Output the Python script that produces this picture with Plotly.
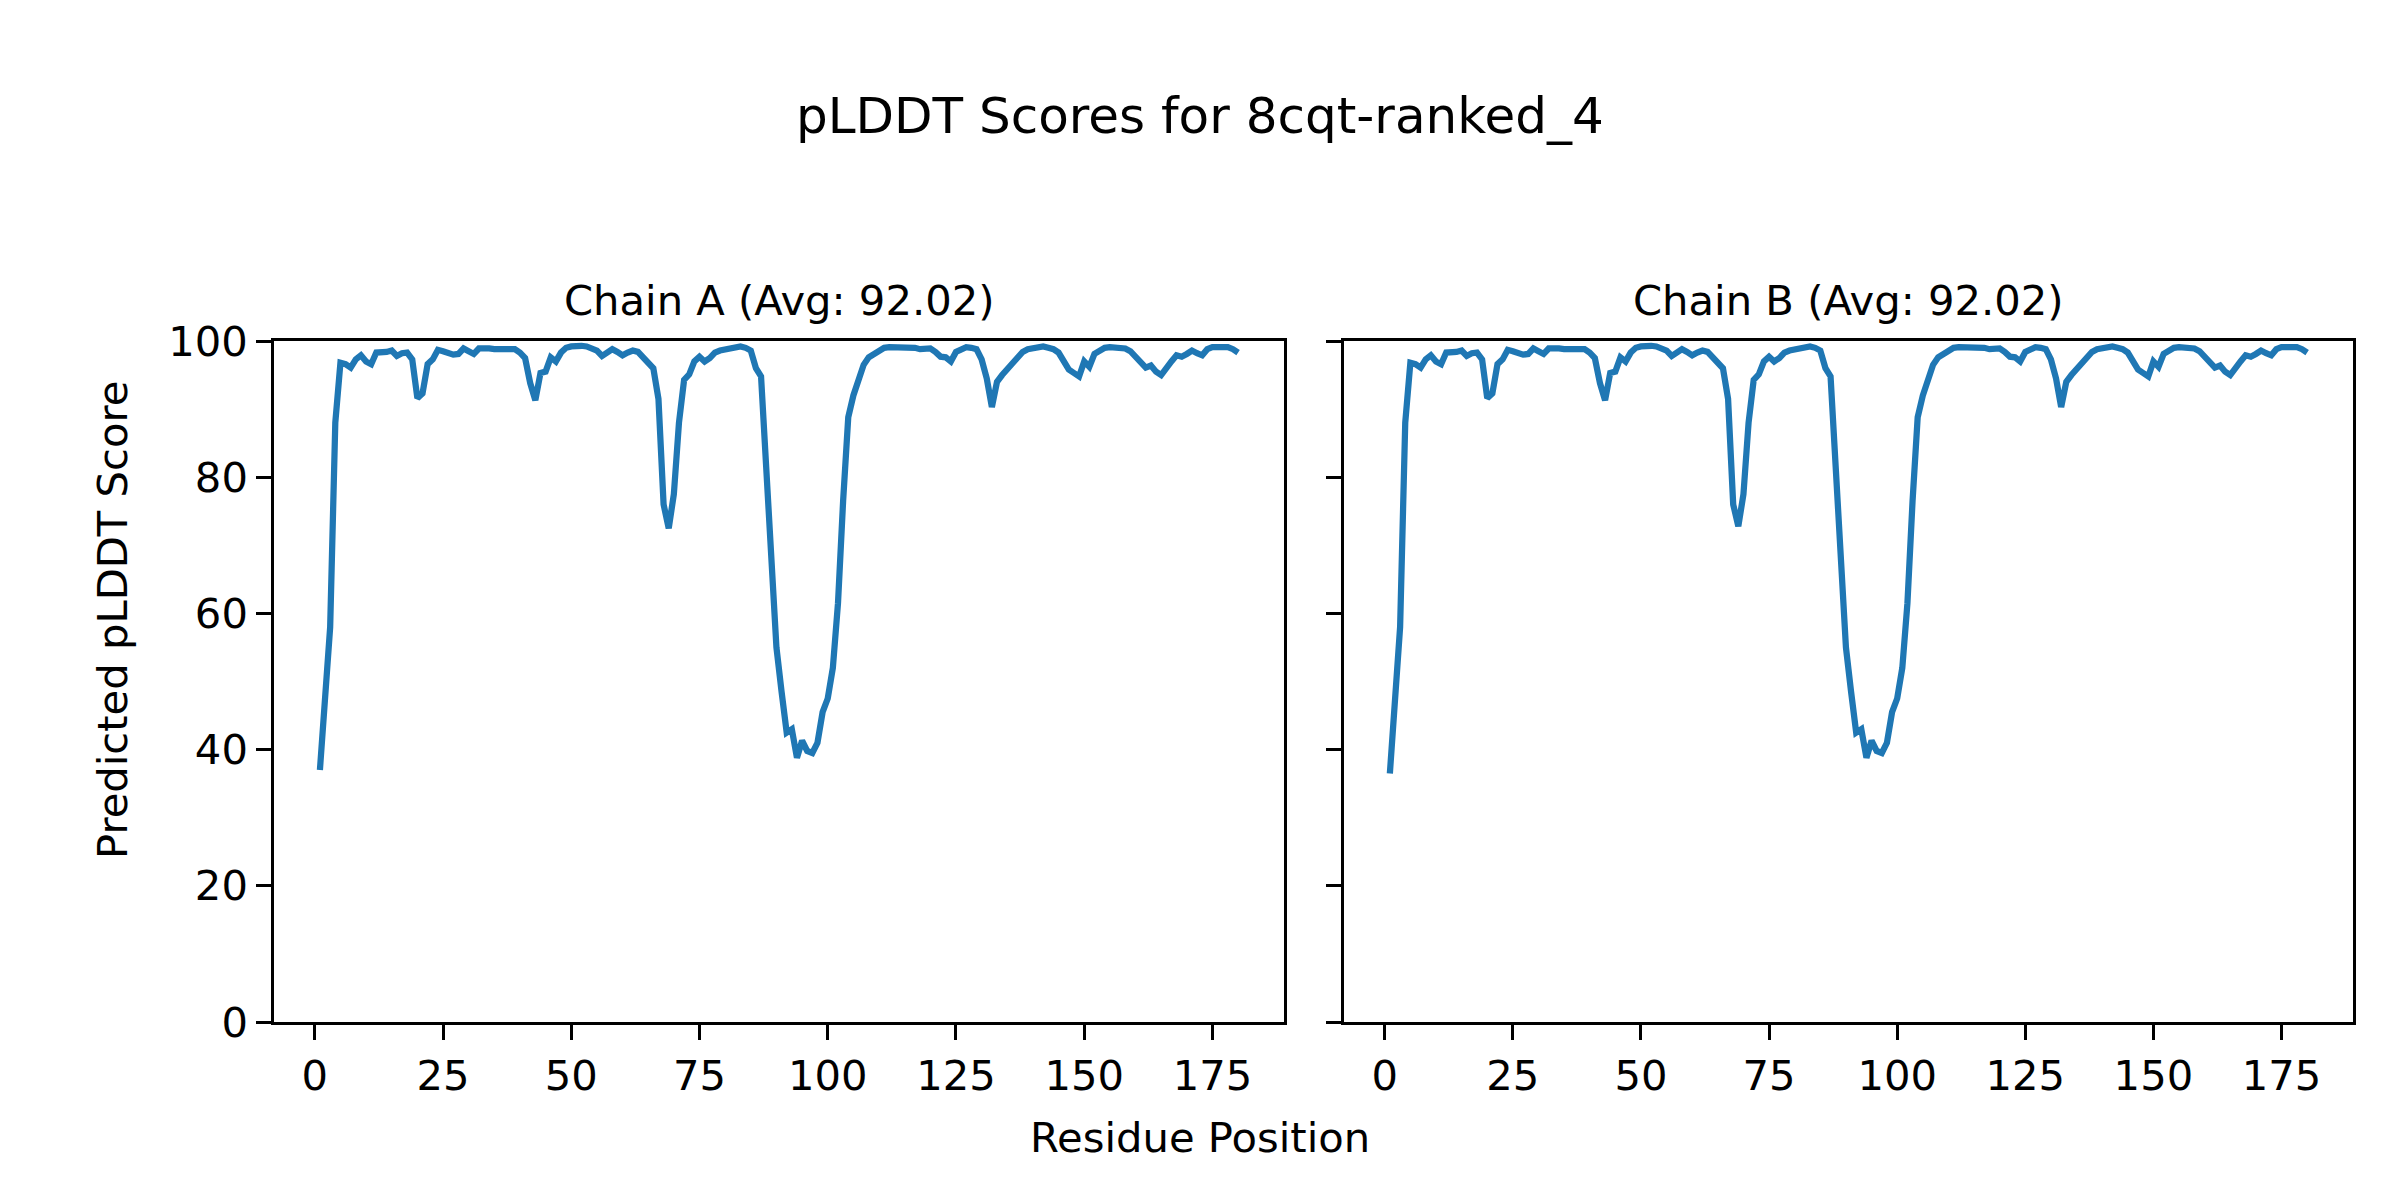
import plotly.graph_objects as go

# ---------------- data ----------------
residues = list(range(1, 181))

chain_a_scores = [
    37.0, 47.5, 58.0, 88.0, 96.8, 96.6, 96.1, 97.3, 97.9, 97.0,
    96.6, 98.3, 98.3, 98.4, 98.6, 97.8, 98.2, 98.3, 97.3, 91.6,
    92.3, 96.6, 97.3, 98.7, 98.5, 98.3, 98.0, 98.1, 98.9, 98.5,
    98.1, 98.9, 99.0, 98.9, 98.8, 98.9, 98.8, 98.8, 98.8, 98.3,
    97.5, 93.8, 91.3, 95.3, 95.5, 97.6, 97.0, 98.3, 99.0, 99.2,
    99.3, 99.3, 99.2, 99.0, 98.6, 97.8, 98.3, 98.8, 98.4, 97.9,
    98.3, 98.6, 98.4, 97.6, 97.1, 96.0, 91.5, 76.0, 72.5, 77.5,
    88.0, 94.3, 95.1, 97.0, 97.7, 97.0, 97.5, 98.3, 98.6, 98.8,
    99.0, 99.1, 99.2, 99.0, 98.6, 96.0, 94.8, 81.5, 67.8, 55.0,
    48.5, 42.5, 43.0, 38.8, 41.3, 39.8, 39.5, 41.0, 45.5, 47.5,
    52.0, 61.5, 76.5, 88.8, 92.0, 94.5, 96.5, 97.6, 98.1, 98.6,
    99.0, 99.1, 99.1, 99.1, 99.1, 99.1, 99.0, 98.8, 98.8, 98.9,
    98.4, 97.7, 97.6, 97.0, 98.4, 98.7, 99.1, 99.0, 98.8, 97.3,
    94.5, 90.3, 94.0, 95.0, 95.8, 96.7, 97.4, 98.4, 98.8, 98.9,
    98.9, 99.2, 99.0, 98.8, 98.3, 97.1, 95.8, 95.3, 94.8, 97.0,
    96.2, 98.1, 98.6, 99.0, 99.1, 99.0, 99.0, 98.9, 98.5, 97.8,
    97.0, 96.1, 96.4, 95.5, 95.0, 96.2, 97.0, 97.9, 97.7, 98.1,
    98.6, 98.2, 97.9, 98.8, 99.1, 99.1, 99.1, 99.1, 98.8, 98.3,
]

chain_b_scores = [
    36.5, 47.5, 58.0, 88.0, 96.8, 96.6, 96.1, 97.3, 97.9, 97.0,
    96.6, 98.3, 98.3, 98.4, 98.6, 97.8, 98.2, 98.3, 97.3, 91.6,
    92.3, 96.6, 97.3, 98.7, 98.5, 98.3, 98.0, 98.1, 98.9, 98.5,
    98.1, 98.9, 99.0, 98.9, 98.8, 98.9, 98.8, 98.8, 98.8, 98.3,
    97.5, 93.8, 91.3, 95.3, 95.5, 97.6, 97.0, 98.3, 99.0, 99.2,
    99.3, 99.3, 99.2, 99.0, 98.6, 97.8, 98.3, 98.8, 98.4, 97.9,
    98.3, 98.6, 98.4, 97.6, 97.1, 96.0, 91.5, 76.0, 72.8, 77.5,
    88.0, 94.3, 95.1, 97.0, 97.7, 97.0, 97.5, 98.3, 98.6, 98.8,
    99.0, 99.1, 99.2, 99.0, 98.6, 96.0, 94.8, 81.5, 67.8, 55.0,
    48.5, 42.5, 43.0, 38.8, 41.3, 39.8, 39.5, 41.0, 45.5, 47.5,
    52.0, 61.5, 76.5, 88.8, 92.0, 94.5, 96.5, 97.6, 98.1, 98.6,
    99.0, 99.1, 99.1, 99.1, 99.1, 99.1, 99.0, 98.8, 98.8, 98.9,
    98.4, 97.7, 97.6, 97.0, 98.4, 98.7, 99.1, 99.0, 98.8, 97.3,
    94.5, 90.3, 94.0, 95.0, 95.8, 96.7, 97.4, 98.4, 98.8, 98.9,
    98.9, 99.2, 99.0, 98.8, 98.3, 97.1, 95.8, 95.3, 94.8, 97.0,
    96.2, 98.1, 98.6, 99.0, 99.1, 99.0, 99.0, 98.9, 98.5, 97.8,
    97.0, 96.1, 96.4, 95.5, 95.0, 96.2, 97.0, 97.9, 97.7, 98.1,
    98.6, 98.2, 97.9, 98.8, 99.1, 99.1, 99.1, 99.1, 98.8, 98.3,
]

chain_titles = ["Chain A (Avg: 92.02)", "Chain B (Avg: 92.02)"]
main_title = "pLDDT Scores for 8cqt-ranked_4"
x_label = "Residue Position"
y_label = "Predicted pLDDT Score"
x_ticks = [0, 25, 50, 75, 100, 125, 150, 175]
y_ticks = [0, 20, 40, 60, 80, 100]

# ---------------- styling ----------------
W, H = 2400, 1200
OFF = 8  # page body margin offset compensation
FONT = "DejaVu Sans"
LINE_COLOR = "#1f77b4"
TICK_PX = 41.7
TITLE_PX = 50
SPINE_W = 3.3


def px_x(p):
    return (p - OFF) / W


def px_y(p):
    return 1 - (p - OFF) / H


dom_a = [px_x(274), px_x(1284)]
dom_b = [px_x(1344), px_x(2353)]
dom_y = [px_y(1022), px_y(341)]

fig = go.Figure()
fig.add_trace(go.Scatter(x=residues, y=chain_a_scores, mode="lines",
                         line=dict(color=LINE_COLOR, width=6.25),
                         xaxis="x", yaxis="y", showlegend=False))
fig.add_trace(go.Scatter(x=residues, y=chain_b_scores, mode="lines",
                         line=dict(color=LINE_COLOR, width=6.25),
                         xaxis="x2", yaxis="y2", showlegend=False))

xmin = 1 - 0.05 * (180 - 1)
xmax = 180 + 0.05 * (180 - 1)

common_axis = dict(
    showline=True, linecolor="black", linewidth=SPINE_W, mirror=True,
    ticks="outside", ticklen=14.6, tickwidth=SPINE_W, tickcolor="black",
    showgrid=False, zeroline=False, automargin=False,
    tickfont=dict(family=FONT, size=TICK_PX, color="black"),
)

fig.update_layout(
    width=W, height=H,
    margin=dict(l=0, r=0, t=0, b=0, pad=0, autoexpand=False),
    paper_bgcolor="white", plot_bgcolor="white",
    font=dict(family=FONT, color="black"),
    xaxis=dict(domain=dom_a, range=[xmin, xmax], tickvals=x_ticks,
               anchor="y", ticklabelstandoff=0, **common_axis),
    yaxis=dict(domain=dom_y, range=[0, 100], tickvals=y_ticks,
               anchor="x", ticklabelstandoff=0, **common_axis),
    xaxis2=dict(domain=dom_b, range=[xmin, xmax], tickvals=x_ticks,
                anchor="y2", ticklabelstandoff=0, **common_axis),
    yaxis2=dict(domain=dom_y, range=[0, 100], tickvals=y_ticks,
                anchor="x2", showticklabels=False, **common_axis),
)

annotations = [
    dict(text=main_title, x=px_x(1200), y=px_y(116), xref="paper", yref="paper",
         xanchor="center", yanchor="middle", showarrow=False,
         font=dict(family=FONT, size=TITLE_PX, color="black")),
    dict(text=chain_titles[0], x=(dom_a[0] + dom_a[1]) / 2, y=px_y(300),
         xref="paper", yref="paper", xanchor="center", yanchor="middle",
         showarrow=False, font=dict(family=FONT, size=TICK_PX, color="black")),
    dict(text=chain_titles[1], x=(dom_b[0] + dom_b[1]) / 2, y=px_y(300),
         xref="paper", yref="paper", xanchor="center", yanchor="middle",
         showarrow=False, font=dict(family=FONT, size=TICK_PX, color="black")),
    dict(text=x_label, x=px_x(1200), y=px_y(1137), xref="paper", yref="paper",
         xanchor="center", yanchor="middle", showarrow=False,
         font=dict(family=FONT, size=TICK_PX, color="black")),
    dict(text=y_label, x=px_x(112), y=px_y(620), xref="paper", yref="paper",
         xanchor="center", yanchor="middle", showarrow=False, textangle=-90,
         font=dict(family=FONT, size=TICK_PX, color="black")),
]
fig.update_layout(annotations=annotations)

fig.write_html("out.html", config={"displayModeBar": False})
